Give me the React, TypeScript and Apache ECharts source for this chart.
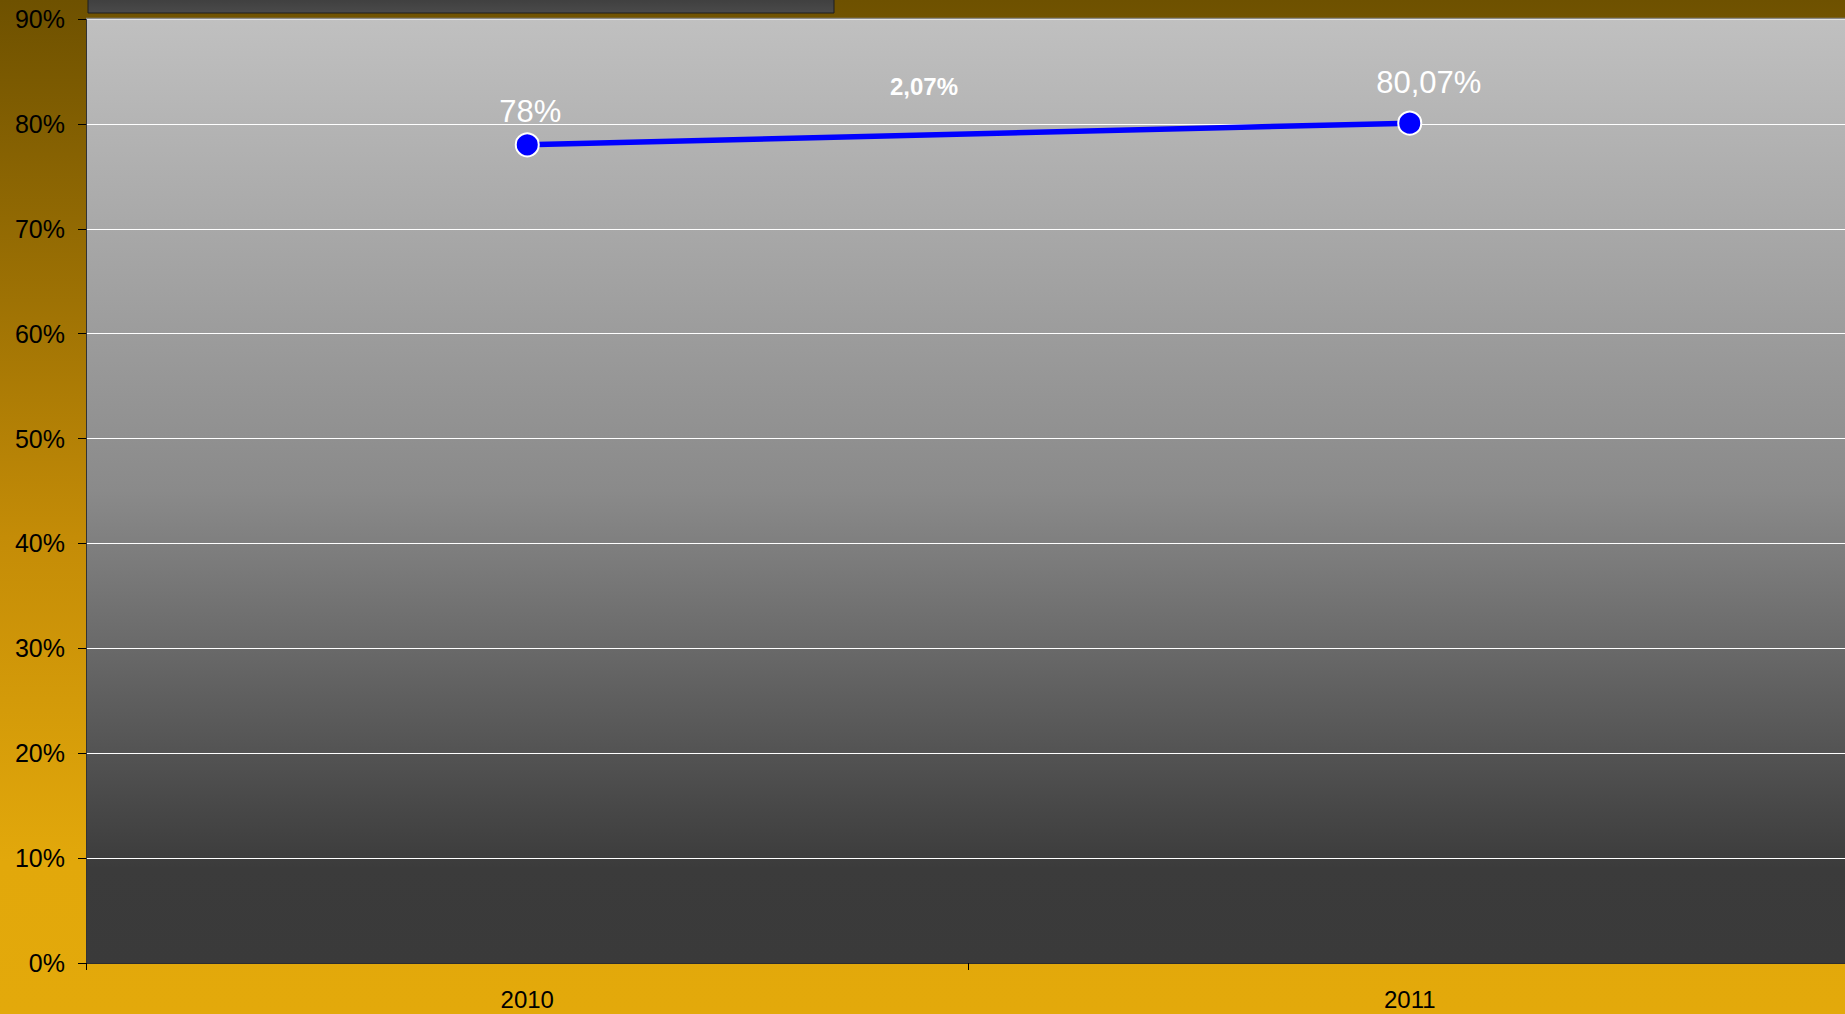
import React, { useEffect, useRef } from "react";
import * as echarts from "echarts";

const categories = ["2010", "2011"];
const values = [78, 80.07];
const labelOffsets: [number, number][] = [
  [3, -33],
  [19, -41],
];
const yTicks = { min: 0, max: 90, interval: 10 };
const changeText = (values[1] - values[0]).toFixed(2).replace(".", ",") + "%";

const FONT = '"Liberation Sans", Arial, sans-serif';

function fmt(v: number): string {
  return String(v).replace(".", ",") + "%";
}

export default function App() {
  const ref = useRef<HTMLDivElement>(null);
  useEffect(() => {
    document.body.style.margin = "0";
    document.body.style.overflow = "hidden";
    document.documentElement.style.overflow = "hidden";
    const chart = echarts.init(ref.current!, undefined, { renderer: "svg" });
    chart.setOption({
      animation: false,
      backgroundColor: new echarts.graphic.LinearGradient(0, 0, 0, 1, [
        { offset: 0, color: "#6e5100" },
        { offset: 0.53, color: "#c48c07" },
        { offset: 0.85, color: "#e2a80b" },
        { offset: 1, color: "#e3a90b" },
      ]),
      grid: {
        left: 86,
        right: 0,
        top: 19,
        bottom: 51,
        show: true,
        borderWidth: 0,
        backgroundColor: new echarts.graphic.LinearGradient(0, 0, 0, 1, [
          { offset: 0, color: "#c0c0c0" },
          { offset: 0.5, color: "#8a8a8a" },
          { offset: 0.9, color: "#3b3b3b" },
          { offset: 1, color: "#3a3a3a" },
        ]),
      },
      xAxis: {
        type: "category",
        data: categories,
        boundaryGap: true,
        axisLine: { show: true, lineStyle: { color: "#2e2e2e", width: 1 } },
        axisTick: { show: true, length: 7, lineStyle: { color: "#000" } },
        axisLabel: {
          color: "#000",
          fontFamily: FONT,
          fontSize: 24,
          margin: 24,
        },
        splitLine: { show: false },
      },
      yAxis: {
        type: "value",
        min: yTicks.min,
        max: yTicks.max,
        interval: yTicks.interval,
        axisLine: { show: true, lineStyle: { color: "#333", width: 1 } },
        axisTick: { show: true, length: 8, lineStyle: { color: "#000" } },
        axisLabel: {
          color: "#000",
          fontFamily: FONT,
          fontSize: 25,
          margin: 21,
          formatter: "{value}%",
        },
        splitLine: { show: true, lineStyle: { color: "#ffffff", width: 1 } },
      },
      series: [
        {
          type: "line",
          data: values.map((v, i) => ({
            value: v,
            label: {
              show: true,
              position: "inside",
              offset: labelOffsets[i],
              formatter: () => fmt(v),
              color: "#ffffff",
              fontFamily: FONT,
              fontSize: 31,
            },
          })),
          lineStyle: { color: "#0000ff", width: 5.5 },
          itemStyle: { color: "#0000ff", borderColor: "#ffffff", borderWidth: 2 },
          symbol: "circle",
          symbolSize: 23,
          showSymbol: true,
          z: 5,
        },
      ],
      graphic: [
        {
          type: "rect",
          shape: { x: 88, y: -5, width: 746, height: 18 },
          style: {
            fill: new echarts.graphic.LinearGradient(0, 0, 0, 1, [
              { offset: 0, color: "#3c3c3c" },
              { offset: 1, color: "#4a4a4a" },
            ]),
            stroke: "#1e1e1e",
            lineWidth: 1,
          },
          z: 10,
        },
        {
          type: "line",
          shape: { x1: 86, y1: 18.5, x2: 1851, y2: 18.5 },
          style: { stroke: "#8a8a8a", lineWidth: 1.5 },
          z: 10,
        },
        {
          type: "text",
          x: 924,
          y: 86,
          style: {
            text: changeText,
            fill: "#ffffff",
            font: `bold 24px ${FONT}`,
            align: "center",
            verticalAlign: "middle",
          },
          z: 10,
        },
      ],
    });
    return () => chart.dispose();
  }, []);
  return (
    <div
      ref={ref}
      style={{ position: "fixed", left: 0, top: 0, width: 1851, height: 1014 }}
    />
  );
}
